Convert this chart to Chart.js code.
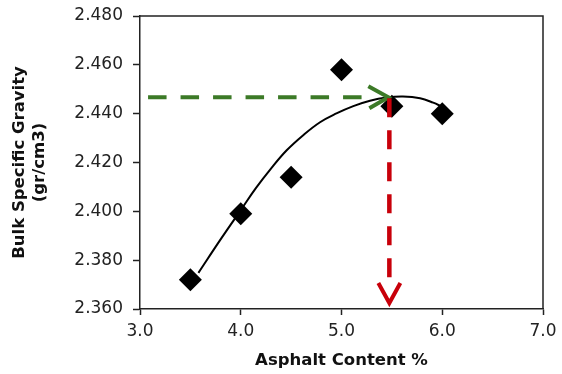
<!DOCTYPE html>
<html>
<head>
<meta charset="utf-8">
<script src="https://cdn.jsdelivr.net/npm/chart.js@4/dist/chart.umd.min.js"></script>
<style>
  html, body { margin: 0; padding: 0; background: #ffffff; }
  canvas { display: block; }
</style>
</head>
<body>
<canvas id="chart" width="562" height="374"></canvas>
<script>
// Measured samples: asphalt content (%) vs bulk specific gravity
const asphaltContent = [3.5, 4.0, 4.5, 5.0, 5.5, 6.0];
const bulkGravity = [2.372, 2.399, 2.414, 2.458, 2.443, 2.440];

// Smoothed trend line through the samples
const trendContent = [3.58, 3.8, 4.0, 4.15, 4.3, 4.456, 4.62, 4.787, 4.95, 5.117, 5.283, 5.449, 5.61, 5.78, 5.91, 6.0];
const trendGravity = [2.3748, 2.3885, 2.4005, 2.4095, 2.4175, 2.4250, 2.4312, 2.4365, 2.4401, 2.4431, 2.4453, 2.4466, 2.4470, 2.4463, 2.4445, 2.4428];

// Axis ticks
const xTicks = [3.0, 4.0, 5.0, 6.0, 7.0];
const yTicks = [2.360, 2.380, 2.400, 2.420, 2.440, 2.460, 2.480];

// Design gravity read across to the curve, then down to the optimum content
const guideStartContent = 3.08;
const optimumContent = 5.465;
const targetGravity = 2.4467;

const axisColor = '#222222';
const fontFamily = '"DejaVu Sans", "Liberation Sans", Arial, sans-serif';

const frameAndGuides = {
  id: 'frameAndGuides',
  afterDatasetsDraw(chart) {
    const { ctx, chartArea: a, scales: { x, y } } = chart;
    ctx.save();
    // top and right frame lines
    ctx.strokeStyle = axisColor;
    ctx.lineWidth = 1.5;
    ctx.beginPath();
    ctx.moveTo(a.left, a.top);
    ctx.lineTo(a.right, a.top);
    ctx.lineTo(a.right, a.bottom);
    ctx.stroke();

    const x0 = x.getPixelForValue(guideStartContent);
    const xt = x.getPixelForValue(optimumContent);
    const yt = y.getPixelForValue(targetGravity);
    const yb = y.getPixelForValue(y.min) - 6;

    // green horizontal dashed guide
    ctx.lineCap = 'butt';
    ctx.strokeStyle = '#3c7a27';
    ctx.lineWidth = 4;
    ctx.setLineDash([18.5, 14]);
    ctx.beginPath();
    ctx.moveTo(x0, yt);
    ctx.lineTo(xt - 22, yt);
    ctx.stroke();
    ctx.setLineDash([]);
    ctx.lineJoin = 'miter';
    ctx.beginPath();
    ctx.moveTo(xt - 20, yt - 11);
    ctx.lineTo(xt, yt);
    ctx.lineTo(xt - 19, yt + 11);
    ctx.stroke();

    // red vertical dashed guide
    ctx.strokeStyle = '#c8000a';
    ctx.lineWidth = 4.5;
    ctx.setLineDash([19, 13]);
    ctx.beginPath();
    ctx.moveTo(xt + 1, yt + 1);
    ctx.lineTo(xt + 1, yb - 20);
    ctx.stroke();
    ctx.setLineDash([]);
    ctx.lineWidth = 4;
    ctx.beginPath();
    ctx.moveTo(xt - 10, yb - 20);
    ctx.lineTo(xt + 1, yb);
    ctx.lineTo(xt + 12, yb - 20);
    ctx.stroke();
    ctx.restore();
  }
};

new Chart(document.getElementById('chart'), {
  type: 'scatter',
  data: {
    datasets: [
      {
        label: 'Trend',
        data: trendContent.map((v, i) => ({ x: v, y: trendGravity[i] })),
        showLine: true,
        borderColor: '#000000',
        borderWidth: 2,
        pointRadius: 0,
        tension: 0.4,
        order: 2
      },
      {
        label: 'Bulk Specific Gravity',
        data: asphaltContent.map((v, i) => ({ x: v, y: bulkGravity[i] })),
        showLine: false,
        pointStyle: 'rectRot',
        pointRadius: 11.5,
        pointBackgroundColor: '#000000',
        pointBorderColor: '#000000',
        pointBorderWidth: 0,
        order: 1
      }
    ]
  },
  options: {
    responsive: false,
    animation: false,
    devicePixelRatio: 1,
    layout: { padding: { top: 16, right: 19, bottom: 0, left: 0 } },
    plugins: { legend: { display: false }, tooltip: { enabled: false } },
    scales: {
      x: {
        type: 'linear',
        min: xTicks[0],
        max: xTicks[xTicks.length - 1],
        afterBuildTicks(scale) { scale.ticks = xTicks.map(v => ({ value: v })); },
        afterFit(scale) { scale.height = 65; scale.paddingLeft = 0; scale.paddingRight = 0; },
        grid: { drawOnChartArea: false, drawTicks: true, tickLength: 6, color: axisColor, tickWidth: 1.5 },
        border: { color: axisColor, width: 1.5 },
        ticks: {
          color: axisColor,
          padding: 6,
          font: { family: fontFamily, size: 17 },
          callback: v => Number(v).toFixed(1)
        },
        title: {
          display: true,
          text: 'Asphalt Content %',
          color: '#111111',
          font: { family: fontFamily, size: 16.5, weight: 'bold', lineHeight: 1.2 },
          padding: { top: 0, bottom: 3 }
        }
      },
      y: {
        type: 'linear',
        min: yTicks[0],
        max: yTicks[yTicks.length - 1],
        afterBuildTicks(scale) { scale.ticks = yTicks.map(v => ({ value: v })); },
        afterFit(scale) { scale.width = 140; scale.paddingTop = 0; scale.paddingBottom = 0; },
        grid: { drawOnChartArea: false, drawTicks: true, tickLength: 7, color: axisColor, tickWidth: 1.5 },
        border: { color: axisColor, width: 1.5 },
        ticks: {
          color: axisColor,
          padding: 10,
          font: { family: fontFamily, size: 17 },
          callback: v => Number(v).toFixed(3)
        },
        title: {
          display: true,
          text: ['Bulk Specific Gravity', '(gr/cm3)'],
          color: '#111111',
          font: { family: fontFamily, size: 16.5, weight: 'bold', lineHeight: 1.2 },
          padding: { top: 10, bottom: 0 }
        }
      }
    }
  },
  plugins: [frameAndGuides]
});
</script>
</body>
</html>
